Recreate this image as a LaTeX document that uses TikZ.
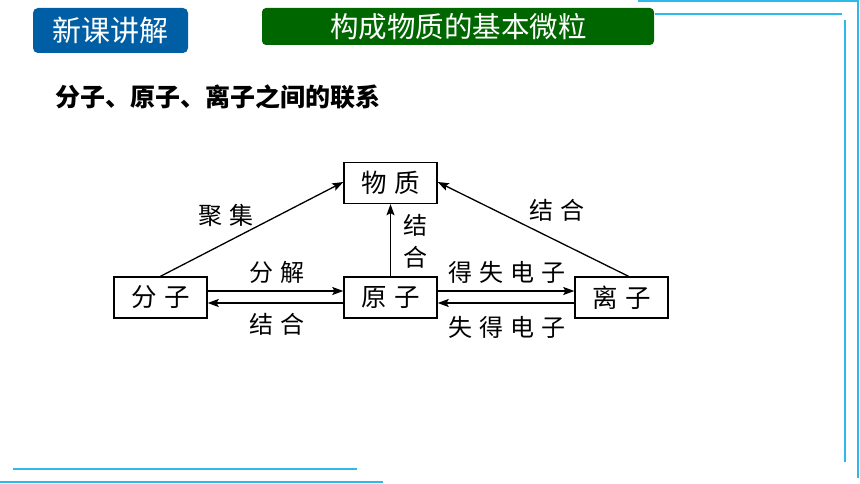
\documentclass[tikz,border=0pt]{standalone}
\usepackage{fontspec}
\newfontfamily\cjk{Noto Sans CJK SC}
\newfontfamily\cjkwide[LetterSpace=28]{Noto Sans CJK SC}
\usetikzlibrary{arrows.meta,positioning}
\definecolor{framecol}{RGB}{45,185,235}
\definecolor{badgeblue}{RGB}{0,94,164}
\definecolor{titlegreen}{RGB}{0,102,0}
\tikzset{
  box/.style={draw,line width=1.4pt,minimum width=93pt,minimum height=41pt,inner sep=0pt,font=\cjkwide\fontsize{25.5}{25.5}\selectfont},
  lbl/.style={inner sep=0pt,font=\cjkwide\fontsize{24}{32}\selectfont},
  arr/.style={-{Stealth[length=11pt,width=8pt,inset=2pt]},line width=1.3pt},
  frame/.style={draw=framecol,line width=2pt},
}

\begin{document}
\begin{tikzpicture}[x=1pt,y=-1pt]
\useasboundingbox (0,0) rectangle (860,484);
% header
\fill[badgeblue,rounded corners=5pt] (33,8) rectangle (188,53);
\node[text=white,font=\cjk\fontsize{29}{29}\selectfont] (badge) at (110.5,30) {新课讲解};
\fill[titlegreen,rounded corners=4pt] (262,8) rectangle (654,45);
\node[text=white,font=\cjk\fontsize{28.5}{28.5}\selectfont] (head) at (458.5,27) {构成物质的基本微粒};
\node[anchor=west,inner sep=0pt,font=\cjk\bfseries\fontsize{25}{25}\selectfont] (title) at (55,97) {分子、原子、离子之间的联系};
% frame lines
\draw[frame] (638,1.5) -- (857.5,1.5) -- (857.5,478);
\draw[frame] (655,14) -- (842,14);
\draw[frame] (845,20) -- (845,462);
\draw[frame] (13,469) -- (357,469);
\draw[frame] (0,481.5) -- (383,481.5);
% boxes
\node[box] (wuzhi) at (390.5,183) {物质};
\node[box] (fenzi) at (160.5,297.5) {分子};
\node[box] (yuanzi) at (390.5,297.5) {原子};
\node[box] (lizi) at (621.5,297.5) {离子};
% arrows
\draw[arr] (fenzi.north) -- ([yshift=1pt]wuzhi.west);
\draw[arr] ([xshift=7pt]lizi.north) -- ([yshift=1pt]wuzhi.east);
\draw[arr] (yuanzi.north) -- (wuzhi.south);
\draw[arr] ([yshift=6.5pt]fenzi.east) -- ([yshift=6.5pt]yuanzi.west);
\draw[arr] ([yshift=-5.5pt]yuanzi.west) -- ([yshift=-5.5pt]fenzi.east);
\draw[arr] ([yshift=6.5pt]yuanzi.east) -- ([yshift=6.5pt]lizi.west);
\draw[arr] ([yshift=-5.5pt]lizi.west) -- ([yshift=-5.5pt]yuanzi.east);
% labels
\node[lbl] (juji) at (226,215) {聚集};
\node[lbl] (jiehe1) at (557,210) {结合};
\node[lbl,align=center] (jiehe2) at (415,241) {结\\合};
\node[lbl] (fenjie) at (277,272) {分解};
\node[lbl] (jiehe3) at (277,324) {结合};
\node[lbl] (deshi) at (507,272) {得失电子};
\node[lbl] (shide) at (507,327) {失得电子};
\end{tikzpicture}
\end{document}
